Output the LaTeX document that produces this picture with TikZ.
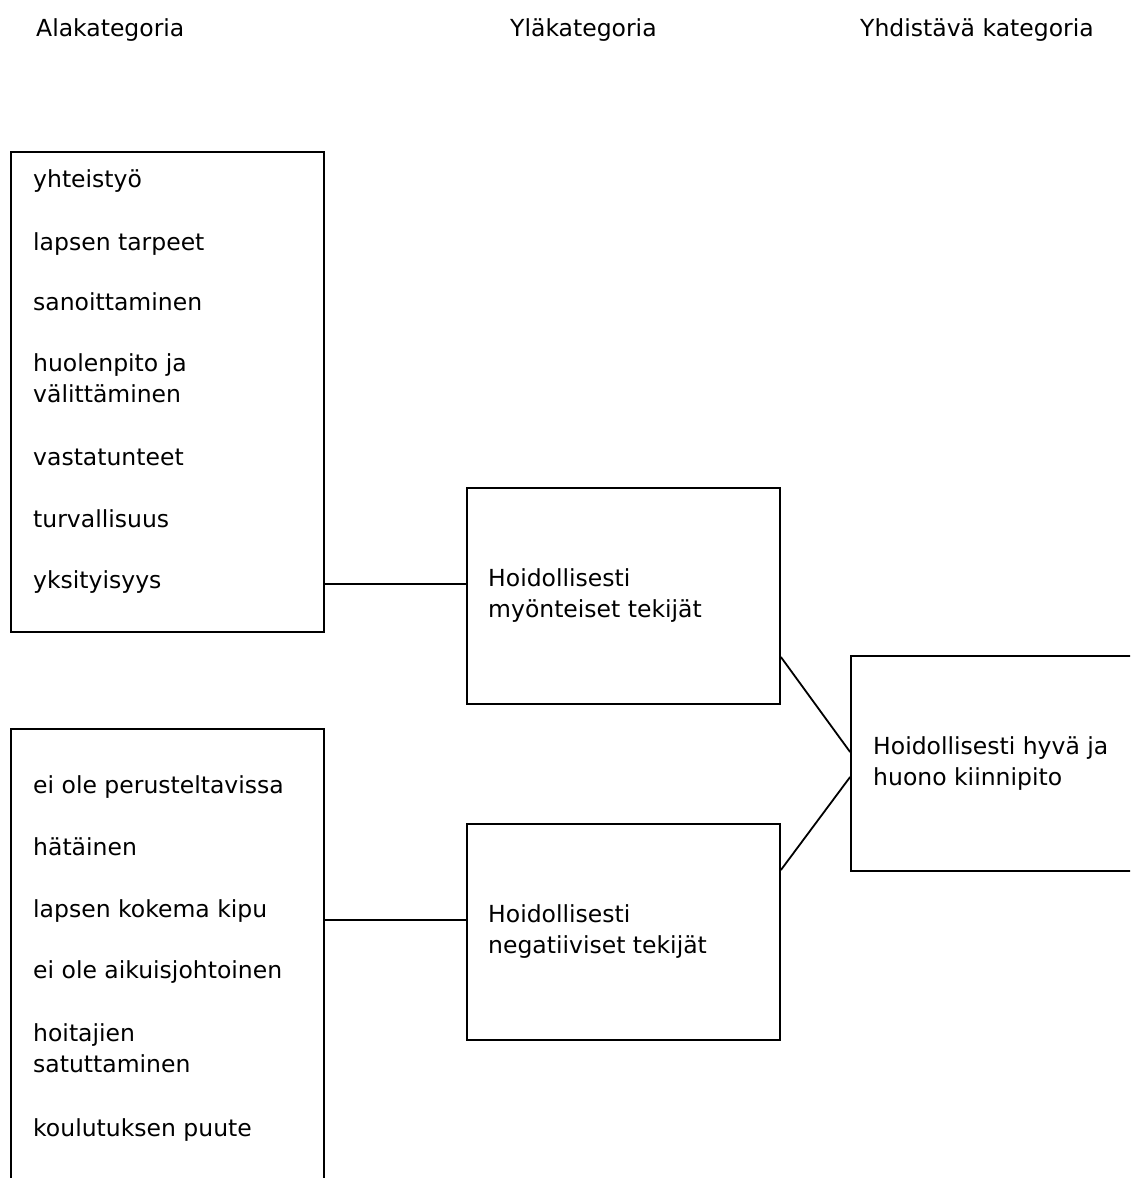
\documentclass[tikz,border=0pt]{standalone}
\usepackage{fontspec}
\setmainfont{DejaVu Sans}
\tikzset{
  box/.style={draw, line width=1.8pt, inner sep=0pt},
  txt/.style={anchor=base west, inner sep=0pt, align=left,
    font=\fontsize{23.5}{31}\selectfont},
  link/.style={line width=1.8pt}
}
\begin{document}
\begin{tikzpicture}[x=1pt, y=-1pt]
  \useasboundingbox (0,0) rectangle (1130,1178);
  \clip (0,0) rectangle (1130,1178);
  \node[txt] (h1) at (36,36) {Alakategoria};
  \node[txt] (h2) at (510,36) {Yläkategoria};
  \node[txt] (h3) at (860,36) {Yhdistävä kategoria};

  \node[box, minimum width=313pt, minimum height=480pt] (ala1) at (167.5,392) {};
  \node[box, minimum width=313pt, minimum height=480pt] (ala2) at (167.5,969) {};
  \node[box, minimum width=313pt, minimum height=216pt] (yla1) at (623.5,596) {};
  \node[box, minimum width=313pt, minimum height=216pt] (yla2) at (623.5,932) {};
  \node[box, minimum width=300pt, minimum height=215pt] (yhd) at (1001,763.5) {};

  \node[txt] (a1) at (33,187) {yhteistyö};
  \node[txt] (a2) at (33,250) {lapsen tarpeet};
  \node[txt] (a3) at (33,310) {sanoittaminen};
  \node[txt] (a4) at (33,402) {huolenpito ja\\välittäminen};
  \node[txt] (a5) at (33,465) {vastatunteet};
  \node[txt] (a6) at (33,527) {turvallisuus};
  \node[txt] (a7) at (33,588) {yksityisyys};

  \node[txt] (b1) at (33,793) {ei ole perusteltavissa};
  \node[txt] (b2) at (33,855) {hätäinen};
  \node[txt] (b3) at (33,917) {lapsen kokema kipu};
  \node[txt] (b4) at (33,978) {ei ole aikuisjohtoinen};
  \node[txt] (b5) at (33,1072) {hoitajien\\satuttaminen};
  \node[txt] (b6) at (33,1136) {koulutuksen puute};

  \node[txt] (y1) at (488,617) {Hoidollisesti\\myönteiset tekijät};
  \node[txt] (y2) at (488,953) {Hoidollisesti\\negatiiviset tekijät};
  \node[txt] (z) at (873,785) {Hoidollisesti hyvä ja\\huono kiinnipito};

  \coordinate (p1) at (0,584);
  \coordinate (p2) at (0,920);
  \coordinate (q1) at (0,657);
  \coordinate (q2) at (0,870);
  \coordinate (r1) at (0,752);
  \coordinate (r2) at (0,777);
  \begin{scope}[link]
    \draw (ala1.east |- p1) -- (yla1.west |- p1);
    \draw (ala2.east |- p2) -- (yla2.west |- p2);
    \draw (yla1.east |- q1) -- (yhd.west |- r1);
    \draw (yla2.east |- q2) -- (yhd.west |- r2);
  \end{scope}
\end{tikzpicture}
\end{document}
